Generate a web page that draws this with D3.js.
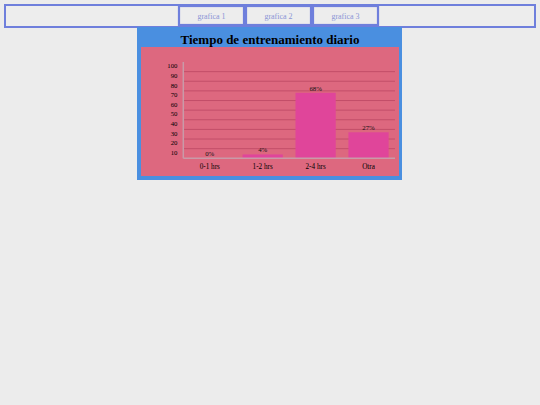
<!DOCTYPE html>
<html>
<head>
<meta charset="utf-8">
<script src="https://cdn.jsdelivr.net/npm/d3@7"></script>
<style>
  html, body { margin: 0; padding: 0; background: #ececec; }
  #chart { display: block; }
</style>
</head>
<body>
<div id="chart"></div>
<script>
const navLabels = ["grafica 1", "grafica 2", "grafica 3"];
const categories = ["0-1 hrs", "1-2 hrs", "2-4 hrs", "Otra"];
const values = [0, 4, 68, 27];
const yTicks = [10, 20, 30, 40, 50, 60, 70, 80, 90, 100];
const title = "Tiempo de entrenamiento diario";

const svg = d3.select("#chart").append("svg")
  .attr("width", 540)
  .attr("height", 405);

const serif = "'Liberation Serif', 'DejaVu Serif', serif";

// nav bar
svg.append("rect")
  .attr("x", 5).attr("y", 5)
  .attr("width", 530).attr("height", 22)
  .attr("fill", "#ededed")
  .attr("stroke", "#6f7fdc")
  .attr("stroke-width", 2);

const nav = d3.scaleBand()
  .domain(navLabels)
  .range([178, 379])
  .padding(0);

const btn = svg.selectAll("g.btn")
  .data(navLabels)
  .join("g")
  .attr("class", "btn")
  .attr("transform", d => `translate(${nav(d)},5)`);

btn.append("rect")
  .attr("x", 1).attr("y", 1)
  .attr("width", nav.bandwidth() - 2)
  .attr("height", 19)
  .attr("fill", "#ededed")
  .attr("stroke", "#6f7fdc")
  .attr("stroke-width", 2.2);

btn.append("text")
  .attr("x", nav.bandwidth() / 2)
  .attr("y", 14)
  .attr("text-anchor", "middle")
  .attr("font-family", serif)
  .attr("font-size", 8)
  .attr("fill", "#8a95d6")
  .text(d => d);

// panel
svg.append("rect")
  .attr("x", 137).attr("y", 27)
  .attr("width", 265).attr("height", 153)
  .attr("fill", "#4a8fe0");

svg.append("text")
  .attr("x", 270).attr("y", 44)
  .attr("text-anchor", "middle")
  .attr("font-family", serif)
  .attr("font-weight", "bold")
  .attr("font-size", 13)
  .attr("fill", "#000")
  .text(title);

svg.append("rect")
  .attr("x", 141).attr("y", 47)
  .attr("width", 258).attr("height", 129)
  .attr("fill", "#dd687f");

const x = d3.scaleBand()
  .domain(categories)
  .range([183.3, 395])
  .paddingInner(0.24)
  .paddingOuter(0.12);

const y = d3.scaleLinear()
  .domain([0, 100])
  .range([158.3, 62]);

const g = svg.append("g");

// grid lines
g.selectAll("line.grid")
  .data(yTicks.filter(t => t < 100))
  .join("line")
  .attr("class", "grid")
  .attr("x1", 183.3).attr("x2", 395)
  .attr("y1", d => y(d)).attr("y2", d => y(d))
  .attr("stroke", "#c04c67")
  .attr("stroke-width", 0.9);

// y tick labels
g.selectAll("text.ytick")
  .data(yTicks)
  .join("text")
  .attr("class", "ytick")
  .attr("x", 177.5)
  .attr("y", d => y(d) + 6.3)
  .attr("text-anchor", "end")
  .attr("font-family", serif)
  .attr("font-size", 6.8)
  .attr("fill", "#000")
  .text(d => d);

// bars
g.selectAll("rect.bar")
  .data(values)
  .join("rect")
  .attr("class", "bar")
  .attr("x", (d, i) => x(categories[i]))
  .attr("y", d => y(d))
  .attr("width", x.bandwidth())
  .attr("height", d => y(0) - y(d))
  .attr("fill", "#e0459a");

g.selectAll("text.val")
  .data(values)
  .join("text")
  .attr("class", "val")
  .attr("x", (d, i) => x(categories[i]) + x.bandwidth() / 2)
  .attr("y", d => y(d) - 2)
  .attr("text-anchor", "middle")
  .attr("font-family", serif)
  .attr("font-size", 6.8)
  .attr("fill", "#111")
  .text(d => d + "%");

// axes
g.append("line")
  .attr("x1", 183.3).attr("x2", 183.3)
  .attr("y1", y(100)).attr("y2", y(0))
  .attr("stroke", "#c99aa8")
  .attr("stroke-width", 1.5);

g.append("line")
  .attr("x1", 183.3).attr("x2", 395)
  .attr("y1", y(0)).attr("y2", y(0))
  .attr("stroke", "#c99aa8")
  .attr("stroke-width", 1.5);

g.selectAll("text.xtick")
  .data(categories)
  .join("text")
  .attr("class", "xtick")
  .attr("x", d => x(d) + x.bandwidth() / 2)
  .attr("y", 168.5)
  .attr("text-anchor", "middle")
  .attr("font-family", serif)
  .attr("font-size", 7.2)
  .attr("fill", "#000")
  .text(d => d);
</script>
</body>
</html>
